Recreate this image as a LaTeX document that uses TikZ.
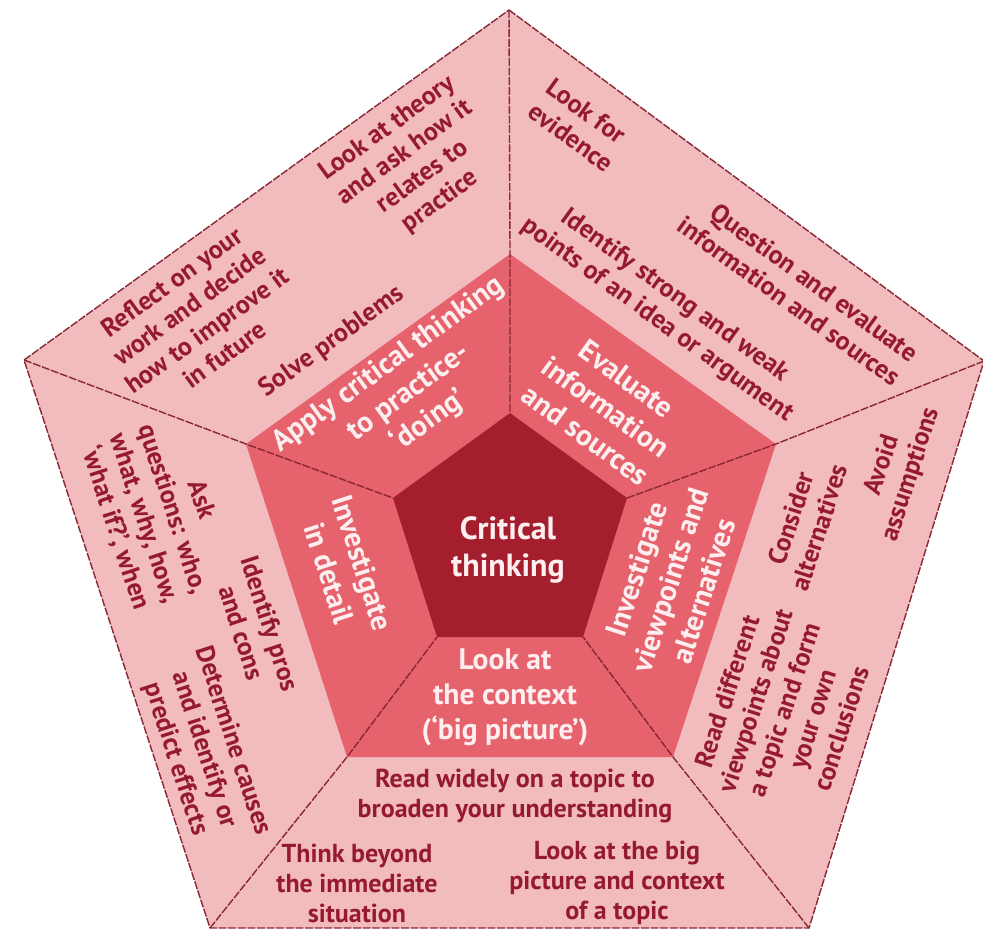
\documentclass[tikz,border=0pt]{standalone}
\usepackage{fontspec}
\setmainfont{PT Sans}
\usetikzlibrary{positioning}

\definecolor{outerfill}{HTML}{F2BBBE}
\definecolor{midfill}{HTML}{E6626C}
\definecolor{corefill}{HTML}{A51E2D}
\definecolor{edgecol}{HTML}{8A2636}
\definecolor{outertxt}{HTML}{961932}
\definecolor{midtxt}{HTML}{FDEEEF}

\tikzset{
  outertext/.style={text=outertxt,align=center,inner sep=0pt,
    font=\bfseries\fontsize{13}{15}\selectfont},
  midtext/.style={text=midtxt,align=center,inner sep=0pt,
    font=\bfseries\fontsize{14.8}{17.5}\selectfont},
  coretext/.style={text=midtxt,align=center,inner sep=0pt,
    font=\bfseries\fontsize{16}{18.5}\selectfont},
  spoke/.style={draw=edgecol,line width=0.7pt,dash pattern=on 4pt off 0.8pt}
}

\begin{document}
\begin{tikzpicture}[x=0.5pt,y=-0.5pt]
        \useasboundingbox (0,0) rectangle (983,935);
        % outer pentagon
        \coordinate (oT) at (509,10);
        \coordinate (oR) at (984,361);
        \coordinate (oBR) at (809,928);
        \coordinate (oBL) at (210,928);
        \coordinate (oL) at (24,360);
        % middle pentagon
        \coordinate (mT) at (510,254);
        \coordinate (mR) at (776,444);
        \coordinate (mBR) at (673,757);
        \coordinate (mBL) at (347,757);
        \coordinate (mL) at (246,444);
        % core pentagon
        \coordinate (cT) at (510,413);
        \coordinate (cR) at (627,498);
        \coordinate (cBR) at (583,637);
        \coordinate (cBL) at (437,637);
        \coordinate (cL) at (393,498);

        \fill[outerfill] (oT) -- (oR) -- (oBR) -- (oBL) -- (oL) -- cycle;
        \fill[midfill] (mT) -- (mR) -- (mBR) -- (mBL) -- (mL) -- cycle;
        \fill[corefill] (cT) -- (cR) -- (cBR) -- (cBL) -- (cL) -- cycle;

        \draw[spoke] (oT) -- (oR) -- (oBR) -- (oBL) -- (oL) -- cycle;
        \draw[spoke] (oT) -- (mT) -- (cT);
        \draw[spoke] (oR) -- (mR) -- (cR);
        \draw[spoke] (oBR) -- (mBR) -- (cBR);
        \draw[spoke] (oBL) -- (mBL) -- (cBL);
        \draw[spoke] (oL) -- (mL) -- (cL);

        % centre
        \node[coretext] (critical) at (508,550) {Critical\\thinking};

        % middle ring
        \node[midtext,rotate=36] (apply) at (409,393)
        {Apply critical thinking\\to practice-\\‘doing’};
        \node[midtext,rotate=-36] (evaluate) at (606,407)
        {Evaluate\\information\\and sources};
        \node[midtext,rotate=72] (viewpoints) at (670,580)
        {Investigate\\viewpoints and\\alternatives};
        \node[midtext] (context) at (505,697)
        {Look at\\the context\\(‘big picture’)};
        \node[midtext,rotate=-72] (detail) at (346,568)
        {Investigate\\in detail};

        % outer ring, top left
        \node[outertext,rotate=36] (theory) at (414,165)
        {Look at theory\\and ask how it\\relates to\\practice};
        \node[outertext,rotate=36] (reflect) at (198,318)
        {Reflect on your\\work and decide\\how to improve it\\in future};
        \node[outertext,rotate=36] (solve) at (332,342) {Solve problems};

        % outer ring, top right
        \node[outertext,rotate=-36,align=left] (evidence) at (580,125)
        {Look for\\evidence};
        \node[outertext,rotate=-36,align=right] (question) at (798,289)
        {Question and evaluate\\information and sources};
        \node[outertext,rotate=-36] (identify) at (666,308)
        {Identify strong and weak\\points of an idea or argument};

        % outer ring, right
        \node[outertext,rotate=72] (avoid) at (897,470)
        {Avoid\\assumptions};
        \node[outertext,rotate=72] (consider) at (805,523)
        {Consider\\alternatives};
        \node[outertext,rotate=72] (different) at (784,710)
        {Read different\\viewpoints about\\a topic and form\\your own\\conclusions};

        % outer ring, bottom
        \node[outertext] (widely) at (515,796)
        {Read widely on a topic to\\broaden your understanding};
        \node[outertext] (beyond) at (357,883)
        {Think beyond\\the immediate\\situation};
        \node[outertext] (bigpic) at (617,883)
        {Look at the big\\picture and context\\of a topic};

        % outer ring, left
        \node[outertext,rotate=-72] (ask) at (158,514)
        {Ask\\questions: who,\\what, why, how,\\‘what if?’, when};
        \node[outertext,rotate=-72] (proscons) at (256,628)
        {Identify pros\\and cons};
        \node[outertext,rotate=-72] (causes) at (204,750)
        {Determine causes\\and identify or\\predict effects};
\end{tikzpicture}
\end{document}
